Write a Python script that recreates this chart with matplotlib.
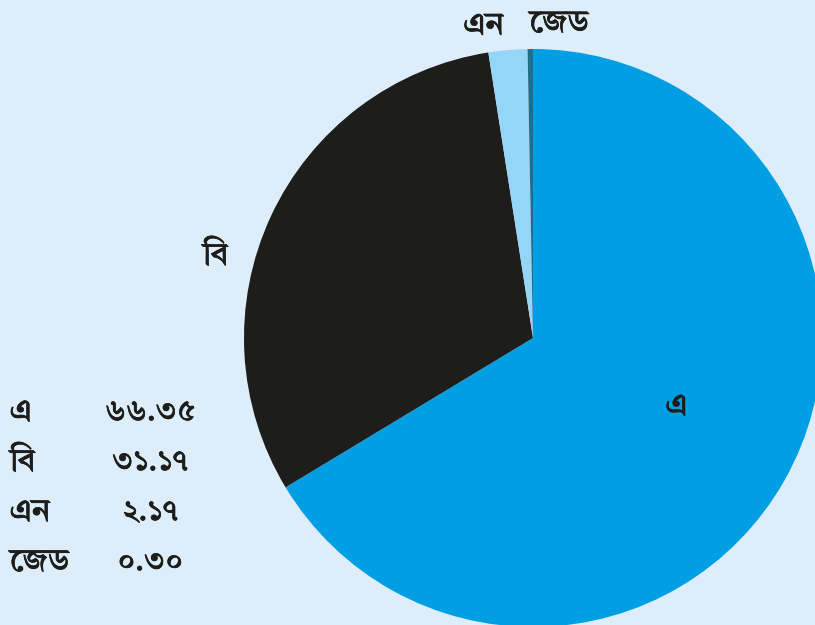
import numpy as np
import matplotlib
matplotlib.use("Agg")
import matplotlib.pyplot as plt
import matplotlib.patheffects as pe

labels = ["এ", "বি", "এন", "জেড"]
values = [66.35, 31.17, 2.17, 0.30]
colors = ["#009fe3", "#1d1d1b", "#95d5f5", "#1f6e8c"]

BG = "#ddeefa"
INK = "#1d1d1b"
FONT = "Tiro Bangla"
BN_DIGITS = str.maketrans("0123456789", "০১২৩৪৫৬৭৮৯")
PRE_BASE = "\u09bf\u09c7\u09c8"  # vowel signs drawn before the consonant
BOLD = [pe.withStroke(linewidth=0.5, foreground=INK)]


def visual(s):
    # matplotlib does no Indic shaping, so move pre-base vowel signs in front
    out = list(s)
    for i in range(1, len(out)):
        if out[i] in PRE_BASE:
            out[i - 1], out[i] = out[i], out[i - 1]
    return "".join(out)


fig = plt.figure(figsize=(8.15, 6.25), dpi=100, facecolor=BG)
ax = fig.add_axes([0, 0, 1, 1])
ax.set_facecolor(BG)

cx, cy, r = 533, 287, 289
wedges, _ = ax.pie(values, colors=colors, startangle=90, counterclock=False,
                   radius=r, center=(cx, cy), frame=True)
ax.set_xlim(0, 815)
ax.set_ylim(0, 625)
ax.set_aspect("equal")
ax.axis("off")

# label placement: (angle shift in degrees, distance in radii)
place = [(4, 0.55), (10.5, 1.135), (4, 1.095), (-5.3, 1.093)]
for w, lab, (shift, dist) in zip(wedges, labels, place):
    mid = np.deg2rad((w.theta1 + w.theta2) / 2 + shift)
    ax.text(cx + dist * r * np.cos(mid), cy + dist * r * np.sin(mid), visual(lab),
            ha="center", va="center", fontsize=23, family=FONT, color=INK, path_effects=BOLD)

# table of values
for i, (lab, v) in enumerate(zip(labels, values)):
    y = 625 - 412 - i * 50
    ax.text(10, y, visual(lab), ha="left", va="center", fontsize=23, family=FONT,
            color=INK, path_effects=BOLD)
    ax.text(150, y, f"{v:.2f}".translate(BN_DIGITS), ha="center", va="center",
            fontsize=22, family=FONT, color=INK, path_effects=BOLD)

fig.savefig("out.png", facecolor=BG)
